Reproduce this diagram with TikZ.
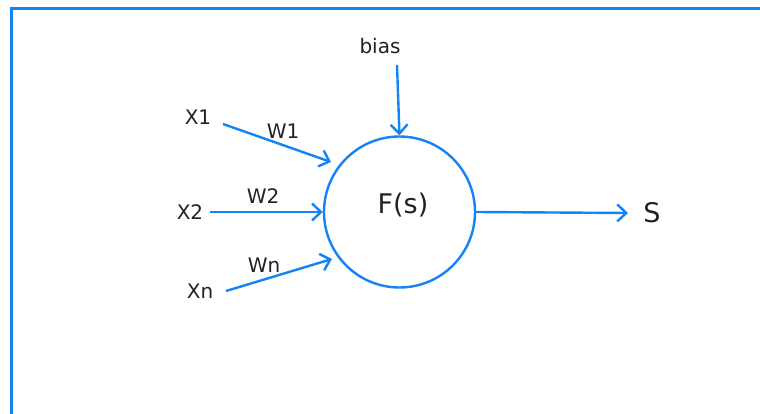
\documentclass[tikz,border=0pt]{standalone}
\usepackage{fontspec}
\setmainfont{DejaVu Sans}
\usetikzlibrary{arrows.meta}
\definecolor{lineblue}{HTML}{1483F5}
\definecolor{txt}{HTML}{222222}
\begin{document}
\begin{tikzpicture}[x=1pt,y=-1pt,
  lbl/.style={text=txt,font=\fontsize{20}{24}\selectfont,inner sep=0pt},
  big/.style={text=txt,font=\fontsize{27}{32}\selectfont,inner sep=0pt},
  conn/.style={draw=lineblue,line width=2.4pt,-{Straight Barb[length=9pt,width=17pt,line width=2.4pt]}}]
\useasboundingbox (0,0) rectangle (760,414);
\draw[lineblue,line width=3pt] (11.5,414) -- (11.5,8.5) -- (760,8.5);
\node[draw=lineblue,line width=2.4pt,circle,minimum size=151pt,inner sep=0pt] (f) at (399.5,212) {};
\node[big] (fs) at (403,205) {F(s)};
\node[big] (s) at (652,213) {S};
\node[lbl] (x1) at (198,117) {X1};
\node[lbl] (x2) at (190,212) {X2};
\node[lbl] (xn) at (200,291) {Xn};
\node[lbl] (w1) at (283,131) {W1};
\node[lbl] (w2) at (263,196) {W2};
\node[lbl] (wn) at (264,265) {Wn};
\node[lbl] (bias) at (380,46) {bias};
\coordinate (x1s) at (223,124);
\coordinate (x2s) at (210,212);
\coordinate (xns) at (226,291);
\coordinate (bs) at (397,65);
\coordinate (x1e) at (331,162);
\coordinate (xne) at (332,259);
\coordinate (se) at (628,213);
\draw[conn] (x1s) -- (x1e);
\draw[conn] (x2s) -- (f.west);
\draw[conn] (xns) -- (xne);
\draw[conn] (bs) -- (f.north);
\draw[conn] (f.east) -- (se);
\end{tikzpicture}
\end{document}
